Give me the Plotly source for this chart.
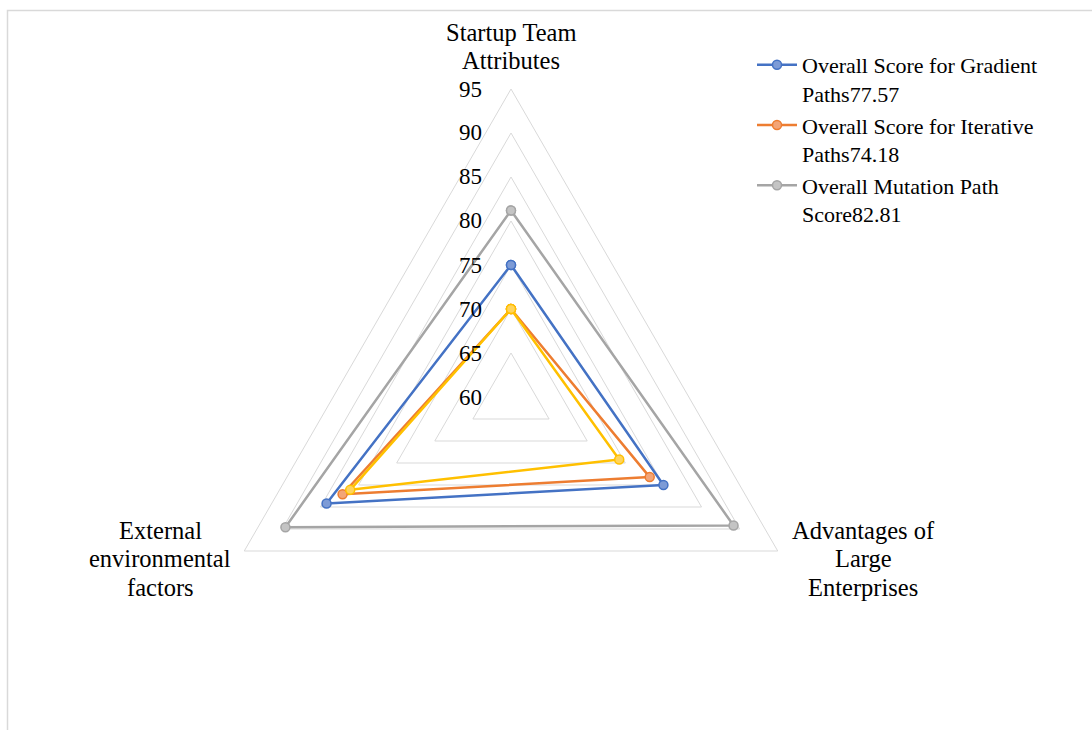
import plotly.graph_objects as go

# Axis categories (clockwise from the top)
categories = [
    "Startup Team<br>Attributes",
    "Advantages of<br>Large<br>Enterprises",
    "External<br>environmental<br>factors",
]

# Series scores per category
gradient_scores = [75.0, 80.0, 84.2]
iterative_scores = [70.0, 78.2, 82.1]
mutation_scores = [81.2, 89.2, 89.6]
fourth_scores = [70.0, 74.2, 81.1]

series_names = [
    "Overall Score for Gradient<br>Paths77.57",
    "Overall Score for Iterative<br>Paths74.18",
    "Overall Mutation Path<br>Score82.81",
    "Series 4",
]
line_colors = ["#4472C4", "#ED7D31", "#A5A5A5", "#FFC000"]
marker_fills = ["#7D9BD6", "#F3A577", "#C4C4C4", "#FFD45C"]
show_in_legend = [True, True, True, False]

radial_ticks = [60, 65, 70, 75, 80, 85, 90, 95]
r_min, r_max = 60, 95

FONT = "Liberation Serif, Times New Roman, serif"
W, H = 1092, 730

fig = go.Figure()
for name, vals, lc, mf, sl in zip(series_names,
                                  [gradient_scores, iterative_scores, mutation_scores, fourth_scores],
                                  line_colors, marker_fills, show_in_legend):
    fig.add_trace(go.Scatterpolar(
        r=vals + vals[:1],
        theta=categories + categories[:1],
        mode="lines+markers",
        name=name,
        showlegend=sl,
        line=dict(color=lc, width=2.5),
        marker=dict(size=9, color=mf, line=dict(color=lc, width=1.5)),
    ))

# polar area: centre (511, 397), outer radius 308 px
cx, cy, R = 511, 397, 308
fig.update_layout(
    width=W, height=H,
    margin=dict(l=0, r=0, t=0, b=0),
    paper_bgcolor="white",
    font=dict(family=FONT, size=22, color="#000000"),
    polar=dict(
        domain=dict(x=[(cx - R) / W, (cx + R) / W], y=[1 - (cy + R) / H, 1 - (cy - R) / H]),
        gridshape="linear",
        bgcolor="white",
        radialaxis=dict(
            range=[r_min, r_max], tickvals=radial_ticks,
            angle=90, showline=False, gridcolor="#D9D9D9", gridwidth=1,
            ticks="", showticklabels=False,
        ),
        angularaxis=dict(
            rotation=90, direction="clockwise", showgrid=False, showticklabels=False,
            ticks="", showline=True, linecolor="#D9D9D9", linewidth=1,
        ),
    ),
    legend=dict(
        x=752 / W, y=1 - 44 / H, xanchor="left", yanchor="top",
        font=dict(family=FONT, size=22, color="#000000"),
        bgcolor="rgba(0,0,0,0)", valign="top", itemwidth=40,
        tracegroupgap=0,
    ),
)

# radial value labels, left of the vertical axis
px_per_unit = R / (r_max - r_min)
for t in radial_ticks:
    fig.add_annotation(
        x=484 / W, y=1 - (cy - (t - r_min) * px_per_unit) / H, xref="paper", yref="paper",
        text=str(t), showarrow=False, xanchor="right", yanchor="middle",
        font=dict(family=FONT, size=23, color="#000000"),
    )

# category labels around the triangle, one line at a time
label_pos = [(511, 32), (863, 530), (160, 530)]
line_step = 28.5
for text, (x, y0) in zip(categories, label_pos):
    for i, line in enumerate(text.split("<br>")):
        fig.add_annotation(
            x=x / W, y=1 - (y0 + i * line_step) / H, xref="paper", yref="paper",
            text=line, showarrow=False, xanchor="center", yanchor="middle",
            font=dict(family=FONT, size=24.5, color="#000000"),
        )

# chart frame
fig.add_shape(type="rect", xref="paper", yref="paper",
              x0=7.5 / W, x1=1.02, y0=-0.02, y1=1 - 10.5 / H,
              line=dict(color="#D9D9D9", width=1.5), fillcolor="rgba(0,0,0,0)", layer="below")

fig.write_html("out.html")
